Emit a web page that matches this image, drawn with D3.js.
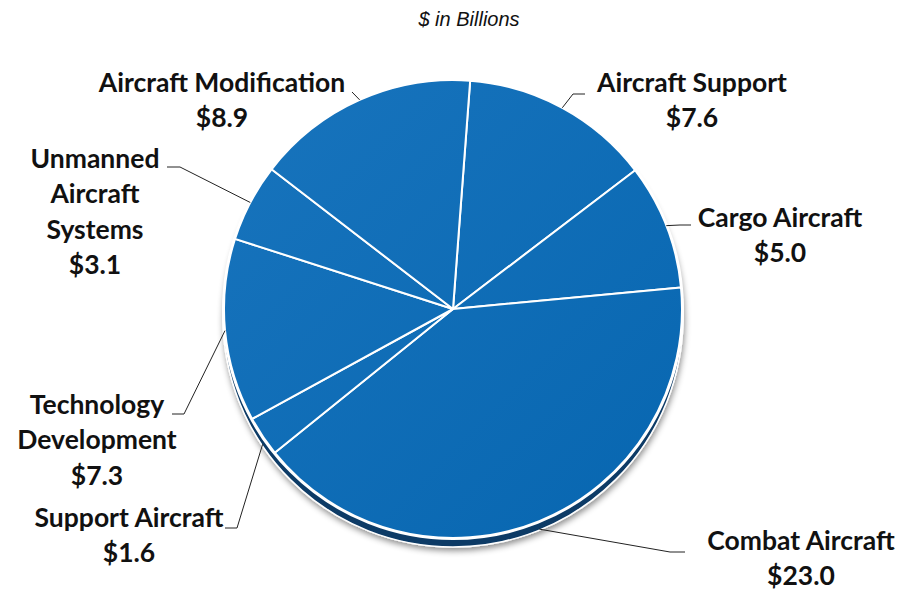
<!DOCTYPE html>
<html>
<head>
<meta charset="utf-8">
<script src="https://cdn.jsdelivr.net/npm/d3@7"></script>
<style>
  html, body { margin: 0; padding: 0; background: #fff; }
  svg { display: block; }
</style>
</head>
<body>
<svg id="chart" width="903" height="590"></svg>
<script>
// ---- Data ----
const categories = ["Aircraft Support", "Cargo Aircraft", "Combat Aircraft", "Support Aircraft",
                    "Technology Development", "Unmanned Aircraft Systems", "Aircraft Modification"];
const values = [7.6, 5.0, 23.0, 1.6, 7.3, 3.1, 8.9];
const labelLines = [
  ["Aircraft Support"],
  ["Cargo Aircraft"],
  ["Combat Aircraft"],
  ["Support Aircraft"],
  ["Technology", "Development"],
  ["Unmanned", "Aircraft", "Systems"],
  ["Aircraft Modification"]
];
const subtitle = "$ in Billions";

// ---- Layout (positions only) ----
const W = 903, H = 590;
const cx = 453, cy = 309, R = 229, depth = 8;
const startAngle = 4.3 * Math.PI / 180;
const labelLayout = [
  { x: 692, y: 92,  ex: 573, ey: 94,  hx: 585 },
  { x: 780, y: 227, ex: 680, ey: 225, hx: 691 },
  { x: 801, y: 550, ex: 670, ey: 552, hx: 685 },
  { x: 129, y: 527, ex: 237, ey: 528, hx: 225 },
  { x: 97,  y: 414, ex: 184, ey: 414, hx: 172 },
  { x: 95,  y: 168, ex: 180, ey: 167, hx: 167 },
  { x: 222, y: 92,  ex: 352, ey: 92,  hx: 352 }
];
const lineH = 35.3;

const svg = d3.select("#chart");
const defs = svg.append("defs");

const grad = defs.append("linearGradient").attr("id", "faceGrad")
  .attr("gradientUnits", "userSpaceOnUse")
  .attr("x1", -R).attr("y1", -R).attr("x2", R).attr("y2", R);
grad.append("stop").attr("offset", "0%").attr("stop-color", "#1874bd");
grad.append("stop").attr("offset", "100%").attr("stop-color", "#0766b0");

const shadow = defs.append("filter").attr("id", "shadow")
  .attr("x", "-20%").attr("y", "-20%").attr("width", "140%").attr("height", "140%");
shadow.append("feDropShadow").attr("dx", 1).attr("dy", 3).attr("stdDeviation", 3)
  .attr("flood-color", "#000").attr("flood-opacity", 0.45);

// Subtitle
svg.append("text")
  .attr("x", 469).attr("y", 26)
  .attr("text-anchor", "middle")
  .attr("font-family", "Liberation Sans, Arial, sans-serif")
  .attr("font-style", "italic")
  .attr("font-size", 20)
  .attr("fill", "#111")
  .text(subtitle);

// Pie layout
const pie = d3.pie().sort(null).value(d => d)
  .startAngle(startAngle).endAngle(startAngle + 2 * Math.PI);
const arcs = pie(values);
const arc = d3.arc().innerRadius(0).outerRadius(R);

// Rim (3D side)
const base = svg.append("g").attr("transform", `translate(${cx},${cy + depth})`);
base.append("circle").attr("r", R + 1)
  .attr("fill", "#0b3a66")
  .attr("stroke", "#ffffff").attr("stroke-width", 1.5)
  .attr("filter", "url(#shadow)");

// Top face
const face = svg.append("g").attr("transform", `translate(${cx},${cy})`);
face.append("circle").attr("r", R + 1).attr("fill", "none")
  .attr("stroke", "#ffffff").attr("stroke-width", 2);
face.selectAll("path.slice")
  .data(arcs)
  .join("path")
  .attr("class", "slice")
  .attr("d", arc)
  .attr("fill", "url(#faceGrad)")
  .attr("stroke", "#ffffff")
  .attr("stroke-width", 2)
  .attr("stroke-linejoin", "round");

// Leader lines
const leaders = svg.append("g");
arcs.forEach((a, i) => {
  const mid = (a.startAngle + a.endAngle) / 2;
  const sx = cx + R * Math.sin(mid);
  let sy = cy - R * Math.cos(mid);
  if (Math.cos(mid) < -0.3) sy += depth;
  const L = labelLayout[i];
  const pts = [[sx, sy], [L.ex, L.ey], [L.hx, L.ey]];
  leaders.append("path")
    .attr("d", d3.line()(pts))
    .attr("fill", "none")
    .attr("stroke", "#222")
    .attr("stroke-width", 1);
});

// Labels
const labels = svg.append("g")
  .attr("font-family", "Lato, 'Open Sans', sans-serif")
  .attr("font-weight", 700)
  .attr("font-size", 26.5)
  .attr("fill", "#111")
  .attr("text-anchor", "middle");
arcs.forEach((a, i) => {
  const L = labelLayout[i];
  const lines = labelLines[i].concat(["$" + values[i].toFixed(1)]);
  const t = labels.append("text").attr("x", L.x).attr("y", L.y);
  lines.forEach((ln, j) => {
    t.append("tspan").attr("x", L.x).attr("y", L.y + j * lineH).text(ln);
  });
});
</script>
</body>
</html>
